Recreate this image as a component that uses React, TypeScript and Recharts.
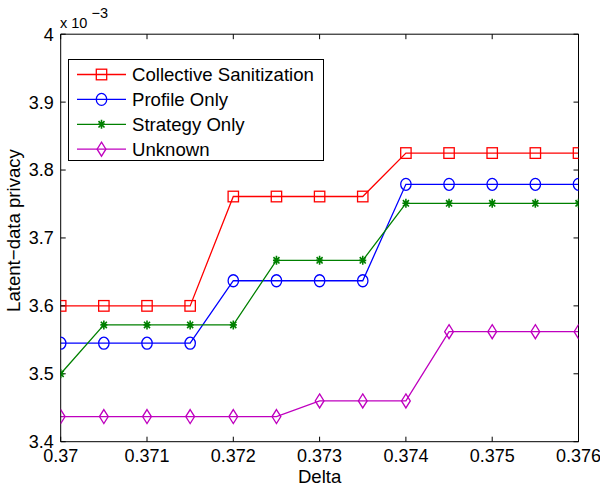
import React from "react";
import { LineChart, Line, XAxis, YAxis, Legend } from "recharts";

const deltas = [
  0.37, 0.3705, 0.371, 0.3715, 0.372, 0.3725, 0.373, 0.3735, 0.374, 0.3745,
  0.375, 0.3755, 0.376,
];

// privacy values, in units of 1e-3
const collective = [
  3.6, 3.6, 3.6, 3.6, 3.761, 3.761, 3.761, 3.761, 3.825, 3.825, 3.825, 3.825,
  3.825,
];
const profileOnly = [
  3.545, 3.545, 3.545, 3.545, 3.637, 3.637, 3.637, 3.637, 3.779, 3.779, 3.779,
  3.779, 3.779,
];
const strategyOnly = [
  3.5, 3.572, 3.572, 3.572, 3.572, 3.667, 3.667, 3.667, 3.751, 3.751, 3.751,
  3.751, 3.751,
];
const unknown = [
  3.437, 3.437, 3.437, 3.437, 3.437, 3.437, 3.46, 3.46, 3.46, 3.562, 3.562,
  3.562, 3.562,
];

const xTicks = [0.37, 0.371, 0.372, 0.373, 0.374, 0.375, 0.376];
const yTicks = [3.4, 3.5, 3.6, 3.7, 3.8, 3.9, 4];

const data = deltas.map((d, i) => ({
  delta: d,
  collective: collective[i],
  profile: profileOnly[i],
  strategy: strategyOnly[i],
  unknown: unknown[i],
}));

const FONT = "'Liberation Sans', Arial, Helvetica, sans-serif";
const RED = "#ff0000";
const BLUE = "#0000ff";
const GREEN = "#008000";
const MAGENTA = "#bf00bf";

type Mark = "square" | "circle" | "star" | "diamond";

const series: { key: string; name: string; color: string; mark: Mark }[] = [
  { key: "collective", name: "Collective Sanitization", color: RED, mark: "square" },
  { key: "profile", name: "Profile Only", color: BLUE, mark: "circle" },
  { key: "strategy", name: "Strategy Only", color: GREEN, mark: "star" },
  { key: "unknown", name: "Unknown", color: MAGENTA, mark: "diamond" },
];

const marker = (mark: Mark, cx: number, cy: number, color: string, key?: string) => {
  const common = { fill: "none", stroke: color, strokeWidth: 1.3 };
  if (mark === "square")
    return <rect key={key} x={cx - 5.2} y={cy - 5.3} width={10.4} height={10.6} {...common} />;
  if (mark === "circle")
    return <ellipse key={key} cx={cx} cy={cy} rx={5.2} ry={6} {...common} />;
  if (mark === "diamond")
    return (
      <path
        key={key}
        d={`M${cx},${cy - 7} L${cx + 4.4},${cy} L${cx},${cy + 7} L${cx - 4.4},${cy} Z`}
        {...common}
      />
    );
  return (
    <path
      key={key}
      d={`M${cx},${cy - 4.5} L${cx},${cy + 4.5} M${cx - 3.5},${cy} L${cx + 3.5},${cy} M${cx - 3},${cy - 3.2} L${cx + 3},${cy + 3.2} M${cx - 3},${cy + 3.2} L${cx + 3},${cy - 3.2}`}
      stroke={color}
      strokeWidth={1.6}
      fill="none"
    />
  );
};

const fmtX = (v: number) => String(Number(v.toFixed(4)));
const fmtY = (v: number) => String(Number(v.toFixed(1)));

const renderLegend = () => (
  <svg width={256} height={102} style={{ display: "block", fontFamily: FONT }}>
    <rect x={0.5} y={0.5} width={255} height={101} fill="#fff" stroke="#000" strokeWidth={1} />
    {series.map((s, i) => {
      const y = 15.5 + i * 24.9;
      return (
        <g key={s.key}>
          <line x1={9} x2={58} y1={y} y2={y} stroke={s.color} strokeWidth={1.3} />
          {marker(s.mark, 33.5, y, s.color)}
          <text x={64} y={y + 6.5} fontSize={18.6} fill="#000">
            {s.name}
          </text>
        </g>
      );
    })}
  </svg>
);

const renderYLabel = () => (
  <g fontFamily={FONT} fill="#000">
    <text
      transform="translate(19.5,230.5) rotate(-90)"
      textAnchor="middle"
      fontSize={18.6}
      fill="#000"
    >
      Latent−data privacy
    </text>
    <text x={60} y={27.7} fontSize={14.5} fill="#000">
      x 10
    </text>
    <text x={91.5} y={18.3} fontSize={14.5} fill="#000">
      −3
    </text>
  </g>
);

export default function App() {
  return (
    <div style={{ position: "absolute", left: 0, top: 0, background: "#fff" }}>
      <LineChart
        width={600}
        height={487}
        data={data}
        margin={{ top: 33.2, right: 20.5, bottom: 1.3, left: 0 }}
        style={{ fontFamily: FONT }}
      >
        <XAxis
          dataKey="delta"
          type="number"
          domain={[0.37, 0.376]}
          ticks={xTicks}
          interval={0}
          allowDataOverflow
          tickFormatter={fmtX}
          height={44}
          tickSize={-5}
          tickMargin={13}
          stroke="#000"
          tick={{ fill: "#000", fontSize: 18 }}
          label={{ value: "Delta", position: "insideBottom", offset: 3, fill: "#000", fontSize: 18.6 }}
        />
        <XAxis
          xAxisId="top"
          orientation="top"
          dataKey="delta"
          type="number"
          domain={[0.37, 0.376]}
          ticks={xTicks}
          interval={0}
          allowDataOverflow
          tickFormatter={() => ""}
          height={1}
          tickSize={-5}
          stroke="#000"
        />
        <YAxis
          type="number"
          domain={[3.4, 4]}
          ticks={yTicks}
          interval={0}
          allowDataOverflow
          tickFormatter={fmtY}
          width={60.7}
          tickSize={-5}
          tickMargin={12}
          stroke="#000"
          tick={{ fill: "#000", fontSize: 18 }}
          label={{ content: renderYLabel }}
        />
        <YAxis
          yAxisId="right"
          orientation="right"
          type="number"
          domain={[3.4, 4]}
          ticks={yTicks}
          interval={0}
          allowDataOverflow
          tickFormatter={() => ""}
          width={1}
          tickSize={-5}
          stroke="#000"
        />
        {series.map((s) => (
          <Line
            key={s.key}
            type="linear"
            dataKey={s.key}
            name={s.name}
            stroke={s.color}
            strokeWidth={1.3}
            isAnimationActive={false}
            dot={(p: any) => marker(s.mark, p.cx, p.cy, s.color, `${s.key}-${p.index}`)}
            activeDot={false}
          />
        ))}
        <Legend
          layout="vertical"
          align="center"
          verticalAlign="middle"
          content={renderLegend}
          wrapperStyle={{ left: 68, top: 59, width: 256, height: 102 }}
        />
      </LineChart>
    </div>
  );
}
